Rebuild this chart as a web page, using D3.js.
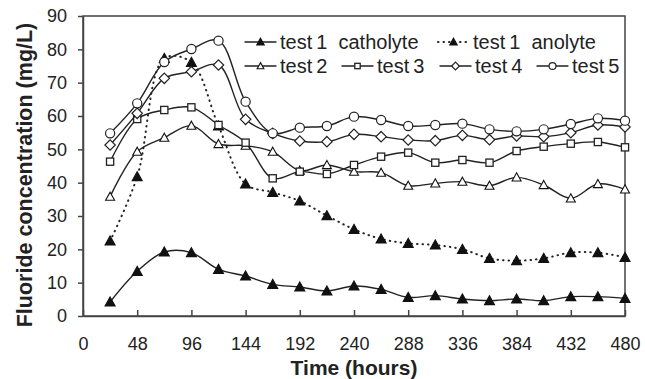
<!DOCTYPE html>
<html>
<head>
<meta charset="utf-8">
<script src="https://cdn.jsdelivr.net/npm/d3@7"></script>
<style>
  body { margin: 0; background: #fff; }
  svg text { font-family: "Liberation Sans", Arial, sans-serif; fill: #222; }
</style>
</head>
<body>
<div id="chart"></div>
<script>
// sampling times (hours)
const hours = [24, 48, 72, 96, 120, 144, 168, 192, 216, 240, 264, 288, 312, 336, 360, 384, 408, 432, 456, 480];

// fluoride concentration (mg/L)
const test1Catholyte = [4.2, 13.4, 19.2, 19.0, 14.0, 12.0, 9.5, 8.7, 7.5, 9.0, 8.0, 5.6, 6.1, 5.1, 4.6, 5.1, 4.6, 5.8, 5.8, 5.3];
const test1Anolyte = [22.5, 41.8, 77.3, 76.1, 57.0, 39.6, 37.1, 34.5, 30.1, 26.0, 23.1, 21.8, 21.3, 20.0, 17.3, 16.6, 17.3, 19.0, 19.0, 17.6];
const test2 = [35.8, 49.3, 53.5, 57.1, 51.6, 51.1, 49.3, 43.6, 45.3, 43.3, 43.0, 39.1, 39.8, 40.3, 39.1, 41.6, 39.3, 35.3, 39.6, 38.0];
const test3 = [46.3, 59.1, 61.8, 62.6, 57.3, 52.0, 41.3, 43.3, 42.6, 45.3, 47.8, 49.0, 46.0, 46.8, 46.0, 49.5, 50.8, 51.7, 52.2, 50.6];
const test4 = [51.3, 60.8, 71.3, 73.3, 75.3, 59.0, 54.8, 52.5, 52.3, 54.5, 53.8, 52.8, 52.6, 54.2, 52.9, 54.0, 53.8, 55.0, 57.3, 56.7];
const test5 = [54.8, 63.8, 76.2, 80.1, 82.6, 64.3, 54.8, 56.5, 57.0, 59.8, 58.8, 57.0, 57.3, 57.7, 56.0, 55.4, 56.0, 57.6, 59.3, 58.6];

const xTicks = [0, 48, 96, 144, 192, 240, 288, 336, 384, 432, 480];
const yTicks = [0, 10, 20, 30, 40, 50, 60, 70, 80, 90];

const series = [
  {name: "test\u20091  catholyte", values: test1Catholyte, marker: "triFilled", dotted: false},
  {name: "test\u20091  anolyte", values: test1Anolyte, marker: "triFilled", dotted: true},
  {name: "test\u20092", values: test2, marker: "tri", dotted: false},
  {name: "test\u20093", values: test3, marker: "square", dotted: false},
  {name: "test\u20094", values: test4, marker: "diamond", dotted: false},
  {name: "test\u20095", values: test5, marker: "circle", dotted: false}
];

const width = 645, height = 379;
const margin = {top: 16, right: 20, bottom: 63, left: 83};

const svg = d3.select("#chart").append("svg")
  .attr("width", width)
  .attr("height", height);

const x = d3.scaleLinear().domain([0, 480]).range([margin.left, width - margin.right]);
const y = d3.scaleLinear().domain([0, 90]).range([height - margin.bottom, margin.top]);

const ink = "#222";

// plot frame
svg.append("rect")
  .attr("x", x(0)).attr("y", y(90))
  .attr("width", x(480) - x(0)).attr("height", y(0) - y(90))
  .attr("fill", "none").attr("stroke", "#444").attr("stroke-width", 1.5);

// x axis: ticks point up into the plot
const xAxis = svg.append("g")
  .attr("transform", `translate(0,${y(0)})`)
  .call(d3.axisBottom(x).tickValues(xTicks).tickSizeInner(-6).tickSizeOuter(0).tickPadding(21));
xAxis.select(".domain").attr("stroke", "#444").attr("stroke-width", 1.5);
xAxis.selectAll(".tick line").attr("stroke", "#444").attr("stroke-width", 1.5);
xAxis.selectAll("text").attr("font-size", 18).attr("fill", "#333").attr("font-family", "Liberation Sans, Arial");

const yAxis = svg.append("g")
  .attr("transform", `translate(${x(0)},0)`)
  .call(d3.axisLeft(y).tickValues(yTicks).tickSizeInner(5).tickSizeOuter(0).tickPadding(11));
yAxis.select(".domain").attr("stroke", "#444").attr("stroke-width", 1.5);
yAxis.selectAll(".tick line").attr("stroke", "#444").attr("stroke-width", 1.5);
yAxis.selectAll("text").attr("font-size", 18).attr("fill", "#333").attr("font-family", "Liberation Sans, Arial");

// axis titles
svg.append("text")
  .attr("x", 354).attr("y", 375)
  .attr("text-anchor", "middle")
  .attr("font-size", 21).attr("font-weight", "bold")
  .text("Time (hours)");

svg.append("text")
  .attr("transform", "translate(25,175) rotate(-90)")
  .attr("text-anchor", "middle")
  .attr("dominant-baseline", "central")
  .attr("font-size", 21.5).attr("font-weight", "bold")
  .text("Fluoride concentration (mg/L)");

function drawMarker(g, type, cx, cy, k = 1) {
  if (type === "triFilled" || type === "tri") {
    const s = (type === "triFilled" ? 5 : 4.5) * k;
    g.append("path")
      .attr("d", `M${cx},${cy - s} L${cx + s},${cy + s * 0.8} L${cx - s},${cy + s * 0.8} Z`)
      .attr("fill", type === "triFilled" ? "#111" : "#fff")
      .attr("stroke", "#111").attr("stroke-width", 1.1);
  } else if (type === "square") {
    const s = 3.6 * k;
    g.append("rect")
      .attr("x", cx - s).attr("y", cy - s).attr("width", 2 * s).attr("height", 2 * s)
      .attr("fill", "#fff").attr("stroke", "#222").attr("stroke-width", 1.3);
  } else if (type === "diamond") {
    const s = 5.2 * k;
    g.append("path")
      .attr("d", `M${cx},${cy - s} L${cx + s},${cy} L${cx},${cy + s} L${cx - s},${cy} Z`)
      .attr("fill", "#fff").attr("stroke", "#222").attr("stroke-width", 1.2);
  } else {
    g.append("circle")
      .attr("cx", cx).attr("cy", cy).attr("r", 4.6 * k)
      .attr("fill", "#fff").attr("stroke", "#222").attr("stroke-width", 1.2);
  }
}

const line = d3.line()
  .x(d => x(d[0]))
  .y(d => y(d[1]))
  .curve(d3.curveCatmullRom.alpha(0.5));

series.forEach(s => {
  const pts = hours.map((h, i) => [h, s.values[i]]);
  const g = svg.append("g");
  g.append("path")
    .attr("d", line(pts))
    .attr("fill", "none")
    .attr("stroke", ink)
    .attr("stroke-width", s.dotted ? 2 : 1.4)
    .attr("stroke-linecap", "round")
    .attr("stroke-dasharray", s.dotted ? "0.5,5" : null);
  pts.forEach(p => drawMarker(g, s.marker, x(p[0]), y(p[1])));
});

// legend
const legendItems = [
  {s: series[0], lx: 245, ly: 42},
  {s: series[1], lx: 438, ly: 42},
  {s: series[2], lx: 245, ly: 66},
  {s: series[3], lx: 342, ly: 66},
  {s: series[4], lx: 440, ly: 66},
  {s: series[5], lx: 537, ly: 66}
];

legendItems.forEach(item => {
  const g = svg.append("g");
  g.append("line")
    .attr("x1", item.lx).attr("x2", item.lx + 31)
    .attr("y1", item.ly).attr("y2", item.ly)
    .attr("stroke", ink)
    .attr("stroke-width", item.s.dotted ? 2 : 1.4)
    .attr("stroke-linecap", "round")
    .attr("stroke-dasharray", item.s.dotted ? "0.5,5" : null);
  drawMarker(g, item.s.marker, item.lx + 15.5, item.ly, 0.75);
  g.append("text")
    .attr("x", item.lx + 35).attr("y", item.ly)
    .attr("dominant-baseline", "central")
    .attr("font-size", 20)
    .attr("xml:space", "preserve")
    .style("white-space", "pre")
    .text(item.s.name);
});
</script>
</body>
</html>
